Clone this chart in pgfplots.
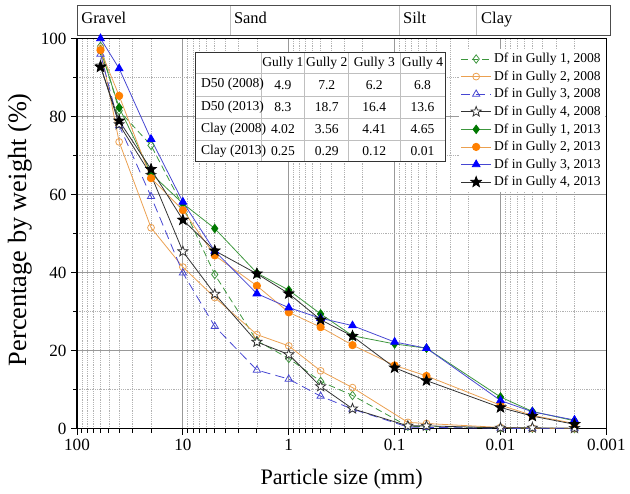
\documentclass[border=0pt]{standalone}
\usepackage{fontspec}
\setmainfont{Liberation Serif}
\usepackage{pgfplots}
\pgfplotsset{compat=1.18}
\usetikzlibrary{plotmarks}

\definecolor{cgreenl}{RGB}{60,150,60}
\definecolor{cgreen}{RGB}{0,120,0}
\definecolor{corangel}{RGB}{235,160,80}
\definecolor{corange}{RGB}{255,128,0}
\definecolor{cbluel}{RGB}{70,70,210}
\definecolor{cblue}{RGB}{0,0,255}
\definecolor{cgrayl}{RGB}{50,50,50}

\pgfdeclareplotmark{pstar}{%
  \pgfpathmoveto{\pgfqpointpolar{90}{\pgfplotmarksize}}%
  \pgfpathlineto{\pgfqpointpolar{126}{0.42\pgfplotmarksize}}%
  \pgfpathlineto{\pgfqpointpolar{162}{\pgfplotmarksize}}%
  \pgfpathlineto{\pgfqpointpolar{198}{0.42\pgfplotmarksize}}%
  \pgfpathlineto{\pgfqpointpolar{234}{\pgfplotmarksize}}%
  \pgfpathlineto{\pgfqpointpolar{270}{0.42\pgfplotmarksize}}%
  \pgfpathlineto{\pgfqpointpolar{306}{\pgfplotmarksize}}%
  \pgfpathlineto{\pgfqpointpolar{342}{0.42\pgfplotmarksize}}%
  \pgfpathlineto{\pgfqpointpolar{18}{\pgfplotmarksize}}%
  \pgfpathlineto{\pgfqpointpolar{54}{0.42\pgfplotmarksize}}%
  \pgfpathclose
  \pgfusepathqfillstroke}

\begin{document}
\begin{tikzpicture}
\begin{axis}[
  scale only axis, width=402pt, height=296.25pt,
  xmode=log, x dir=reverse, xmin=0.001, xmax=100,
  ymin=0, ymax=100,
  xtick={100,10,1,0.1,0.01,0.001},
  xticklabels={100,10,1,0.1,0.01,0.001},
  minor xtick={0.002,0.003,0.004,0.005,0.006,0.007,0.008,0.009,
               0.02,0.03,0.04,0.05,0.06,0.07,0.08,0.09,
               0.2,0.3,0.4,0.5,0.6,0.7,0.8,0.9,
               2,3,4,5,6,7,8,9,20,30,40,50,60,70,80,90},
  ytick={0,20,40,60,80,100}, minor ytick={10,30,50,70,90},
  /pgf/number format/assume math mode=true,
  tick align=outside, tick pos=left,
  major tick length=4.5pt, minor tick length=3pt,
  grid=both,
  major grid style={black!40, line width=0.6pt},
  minor grid style={black!30, densely dotted, line width=0.5pt},
  axis line style={line width=0.9pt},
  every tick/.style={black, line width=0.7pt},
  ticklabel style={font=\fontsize{13}{14}\selectfont},
  xlabel={Particle size (mm)}, ylabel={Percentage by weight (\%)},
  every axis y label/.style={at={(axis description cs:-0.108,0.51)},rotate=90,anchor=center,font=\fontsize{20}{22}\selectfont},
  every axis x label/.style={at={(axis description cs:0.5,-0.13)},anchor=center,font=\fontsize{16.8}{18}\selectfont},
  clip=false,
  legend style={at={(axis description cs:0.722,0.973)}, anchor=north west, draw=none, fill=white,
     font=\fontsize{10.3}{12}\selectfont, inner sep=1pt, row sep=0.6pt},
  legend cell align=left,
  legend image code/.code={\draw[mark repeat=2,mark phase=2] plot coordinates {(0cm,0cm) (0.4cm,0cm) (0.8cm,0cm)};},
]
% 2008
\addplot[cgreenl, line width=0.6pt, dash pattern=on 5pt off 3pt, mark=diamond, mark size=3.2pt, mark options={solid, fill=white, draw=cgreenl}]
 coordinates {(60,98) (40,81.5) (20,72.6) (10,57) (5,39.5) (2,22.5) (1,18) (0.5,12.1) (0.25,8.5) (0.075,0.6) (0.05,0.5) (0.01,0.2) (0.005,0.1) (0.002,0)};
\addlegendentry{Df in Gully 1, 2008}
\addplot[corangel, line width=0.6pt, mark=o, mark size=2.6pt, mark options={solid, fill=white, draw=corangel}]
 coordinates {(60,97.5) (40,73.5) (20,51.5) (10,41.4) (5,33.6) (2,24.1) (1,21.2) (0.5,14.8) (0.25,10.5) (0.075,1.6) (0.05,1.3) (0.01,0.3) (0.005,0.1) (0.002,0)};
\addlegendentry{Df in Gully 2, 2008}
\addplot[cbluel, line width=0.6pt, dash pattern=on 7pt off 4pt, mark=triangle, mark size=3.2pt, mark options={solid, fill=white, draw=cbluel}]
 coordinates {(60,96) (40,77.7) (20,59.5) (10,39.9) (5,26.2) (2,15.0) (1,12.7) (0.5,8.3) (0.25,5.0) (0.075,0.4) (0.05,0.3) (0.01,0.1) (0.005,0) (0.002,0)};
\addlegendentry{Df in Gully 3, 2008}
\addplot[cgrayl, line width=0.6pt, mark=pstar, mark size=4pt, mark options={solid, fill=white, draw=cgrayl}]
 coordinates {(60,93) (40,78) (20,65) (10,45.4) (5,34.5) (2,22.2) (1,19.0) (0.5,10.8) (0.25,5.1) (0.075,0.7) (0.05,0.7) (0.01,0.2) (0.005,0.2) (0.002,0.1)};
\addlegendentry{Df in Gully 4, 2008}
% 2013
\addplot[cgreenl, line width=0.6pt, mark=diamond*, mark size=3.2pt, mark options={solid, fill=cgreen, draw=cgreen}]
 coordinates {(60,97) (40,82.3) (20,65.4) (10,57.7) (5,51.3) (2,39.9) (1,35.5) (0.5,29.4) (0.25,23.8) (0.1,21.7) (0.05,20.6) (0.01,8.1) (0.005,4.4) (0.002,2.0)};
\addlegendentry{Df in Gully 1, 2013}
\addplot[corangel, line width=0.6pt, mark=*, mark size=2.8pt, mark options={solid, fill=corange, draw=corange}]
 coordinates {(60,97) (40,85.3) (20,64.2) (10,56.0) (5,44.4) (2,36.6) (1,29.8) (0.5,26.0) (0.25,21.4) (0.1,16.2) (0.05,13.5) (0.01,6.0) (0.005,3.4) (0.002,1.3)};
\addlegendentry{Df in Gully 2, 2013}
\addplot[cbluel, line width=0.6pt, mark=triangle*, mark size=3.4pt, mark options={solid, fill=cblue, draw=cblue}]
 coordinates {(60,100) (40,92.3) (20,74.2) (10,58.1) (5,45.5) (2,34.6) (1,31.0) (0.5,28.3) (0.25,26.4) (0.1,22.2) (0.05,20.6) (0.01,7.2) (0.005,4.3) (0.002,2.2)};
\addlegendentry{Df in Gully 3, 2013}
\addplot[cgrayl, line width=0.6pt, mark=pstar, mark size=4.2pt, mark options={solid, fill=black, draw=black}]
 coordinates {(60,92.7) (40,78.9) (20,66.5) (10,53.5) (5,45.6) (2,39.7) (1,34.6) (0.5,27.9) (0.25,23.7) (0.1,15.6) (0.05,12.3) (0.01,5.4) (0.005,3.2) (0.002,1.1)};
\addlegendentry{Df in Gully 4, 2013}

% ---- table ----
\fill[white] (axis description cs:0.2244,0.6835) rectangle (axis description cs:0.6953,0.9638);
\draw[black!25, line width=0.6pt]
  (axis description cs:0.2244,0.9106) -- (axis description cs:0.6953,0.9106)
  (axis description cs:0.2244,0.8524) -- (axis description cs:0.6953,0.8524)
  (axis description cs:0.2244,0.7949) -- (axis description cs:0.6953,0.7949)
  (axis description cs:0.2244,0.7385) -- (axis description cs:0.6953,0.7385)
  (axis description cs:0.3476,0.6835) -- (axis description cs:0.3476,0.9638)
  (axis description cs:0.4304,0.6835) -- (axis description cs:0.4304,0.9638)
  (axis description cs:0.5131,0.6835) -- (axis description cs:0.5131,0.9638)
  (axis description cs:0.6101,0.6835) -- (axis description cs:0.6101,0.9638);
\draw[black!80, line width=0.8pt] (axis description cs:0.2244,0.6835) rectangle (axis description cs:0.6953,0.9638);
\begin{scope}[every node/.style={font=\fontsize{10.3}{12}\selectfont, inner sep=0pt}]
\node at (axis description cs:0.389,0.9372) {Gully 1};
\node at (axis description cs:0.4718,0.9372) {Gully 2};
\node at (axis description cs:0.5616,0.9372) {Gully 3};
\node at (axis description cs:0.6527,0.9372) {Gully 4};
\node[anchor=west] at (axis description cs:0.2338,0.8815) {D50 (2008)};
\node[anchor=west] at (axis description cs:0.2338,0.8237) {D50 (2013)};
\node[anchor=west] at (axis description cs:0.2338,0.7667) {Clay (2008)};
\node[anchor=west] at (axis description cs:0.2338,0.711) {Clay (2013)};
\node at (axis description cs:0.389,0.8815) {4.9};
\node at (axis description cs:0.4718,0.8815) {7.2};
\node at (axis description cs:0.5616,0.8815) {6.2};
\node at (axis description cs:0.6527,0.8815) {6.8};
\node at (axis description cs:0.389,0.8237) {8.3};
\node at (axis description cs:0.4718,0.8237) {18.7};
\node at (axis description cs:0.5616,0.8237) {16.4};
\node at (axis description cs:0.6527,0.8237) {13.6};
\node at (axis description cs:0.389,0.7667) {4.02};
\node at (axis description cs:0.4718,0.7667) {3.56};
\node at (axis description cs:0.5616,0.7667) {4.41};
\node at (axis description cs:0.6527,0.7667) {4.65};
\node at (axis description cs:0.389,0.711) {0.25};
\node at (axis description cs:0.4718,0.711) {0.29};
\node at (axis description cs:0.5616,0.711) {0.12};
\node at (axis description cs:0.6527,0.711) {0.01};
\end{scope}

% ---- soil class band ----
\draw[black!25, line width=0.6pt]
  (axis description cs:0.2892,1.0076) -- (axis description cs:0.2892,1.0835)
  (axis description cs:0.6088,1.0076) -- (axis description cs:0.6088,1.0835)
  (axis description cs:0.755,1.0076) -- (axis description cs:0.755,1.0835);
\draw[black!70, line width=0.7pt] (axis description cs:0,1.0076) rectangle (axis description cs:1.007,1.0835);
\begin{scope}[every node/.style={font=\fontsize{12.5}{14}\selectfont, inner sep=0pt, anchor=base west}]
\node at (axis description cs:0.0077,1.0375) {Gravel};
\node at (axis description cs:0.2961,1.0375) {Sand};
\node at (axis description cs:0.6157,1.0375) {Silt};
\node at (axis description cs:0.7631,1.0375) {Clay};
\end{scope}
\end{axis}
\coordinate (BBa) at ([shift={(-58.5pt,-46.5pt)}]current axis.south west);
\coordinate (BBb) at ([shift={(12pt,29.25pt)}]current axis.north east);
\path (BBa) rectangle (BBb);
\end{tikzpicture}
\end{document}
